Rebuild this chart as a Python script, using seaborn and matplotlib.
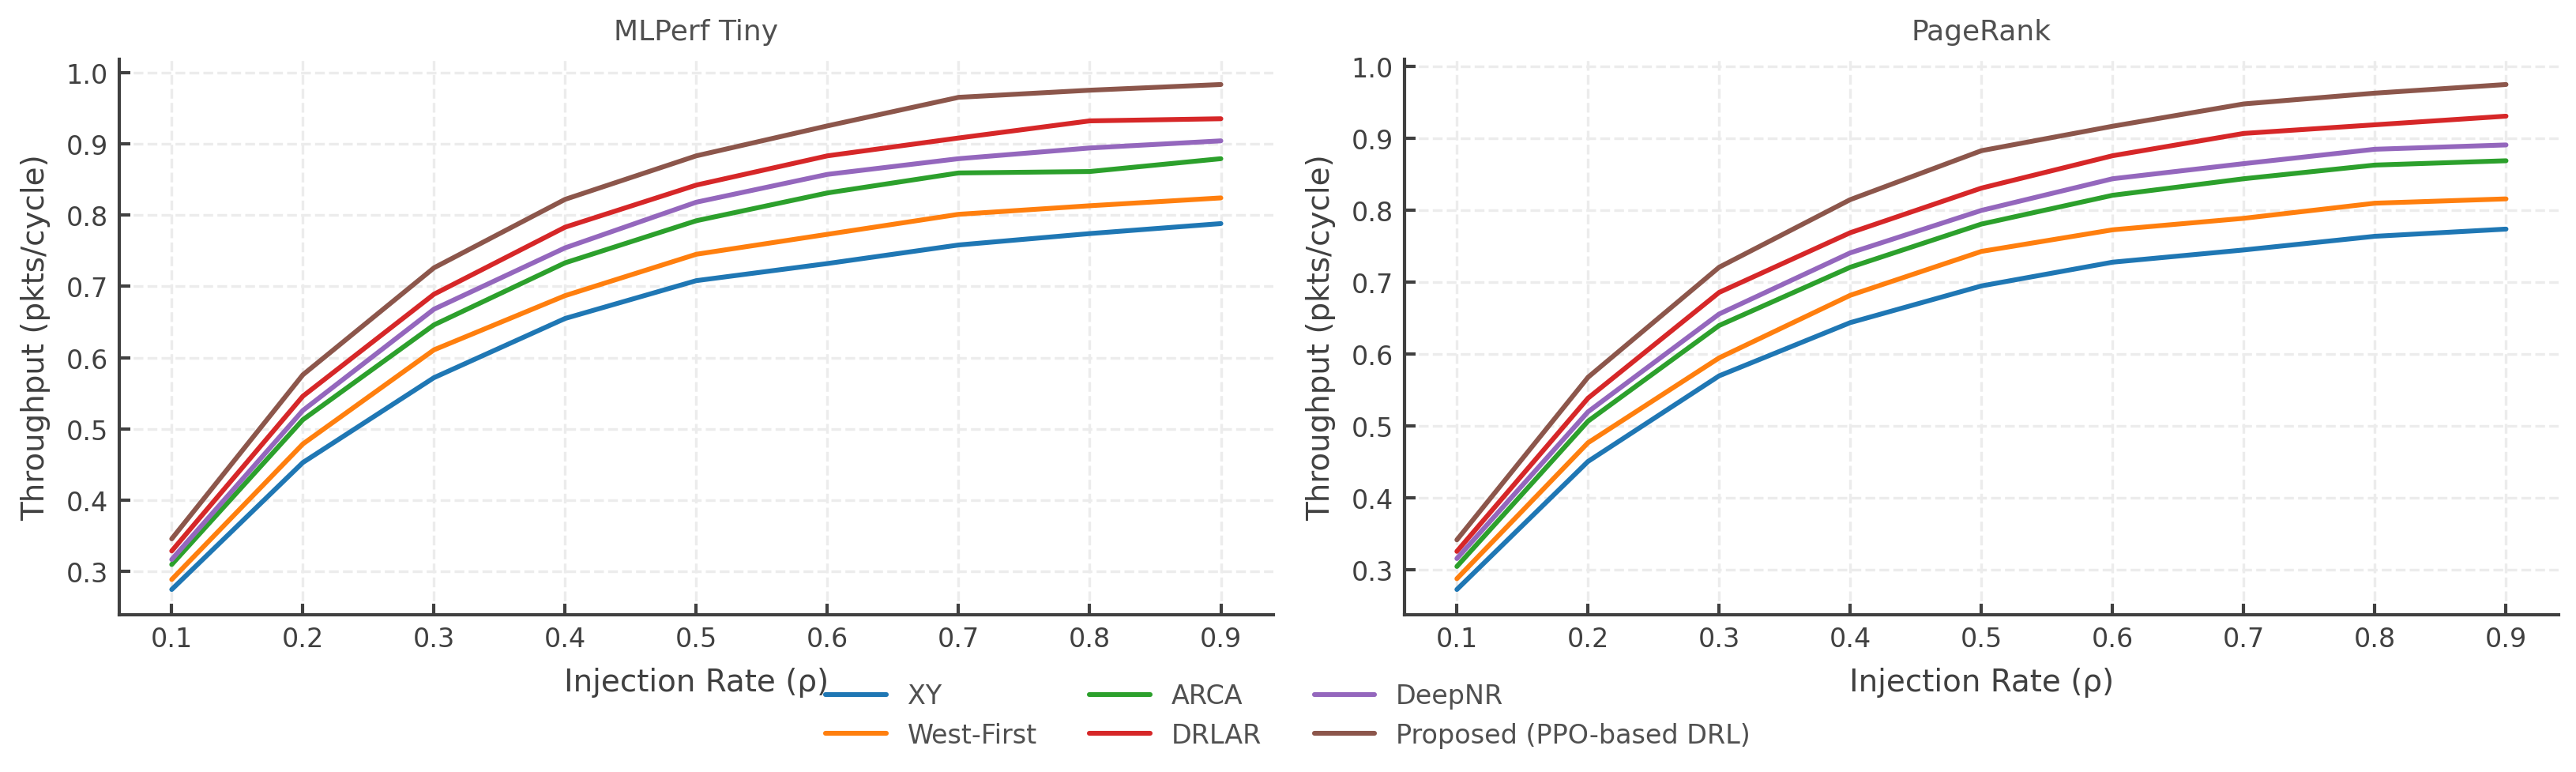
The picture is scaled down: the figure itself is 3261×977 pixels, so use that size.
import matplotlib
matplotlib.use('Agg')

import seaborn as sns
import numpy as np
import pandas as pd
import matplotlib.pyplot as plt

# injection rates on the x axis
rho = [0.1, 0.2, 0.3, 0.4, 0.5, 0.6, 0.7, 0.8, 0.9]

methods = ['XY', 'West-First', 'ARCA', 'DRLAR', 'DeepNR', 'Proposed (PPO-based DRL)']

# MLPerf Tiny throughput (pkts/cycle)
tiny_xy = [0.275, 0.453, 0.572, 0.655, 0.708, 0.732, 0.758, 0.774, 0.788]
tiny_west_first = [0.289, 0.479, 0.611, 0.687, 0.745, 0.773, 0.801, 0.813, 0.824]
tiny_arca = [0.310, 0.513, 0.646, 0.733, 0.792, 0.831, 0.859, 0.861, 0.879]
tiny_drlar = [0.329, 0.546, 0.689, 0.783, 0.842, 0.883, 0.908, 0.932, 0.935]
tiny_deepnr = [0.317, 0.526, 0.668, 0.754, 0.818, 0.857, 0.879, 0.894, 0.904]
tiny_proposed = [0.346, 0.576, 0.726, 0.822, 0.883, 0.925, 0.965, 0.975, 0.983]

# PageRank throughput (pkts/cycle)
pr_xy = [0.273, 0.451, 0.570, 0.644, 0.695, 0.728, 0.745, 0.764, 0.774]
pr_west_first = [0.288, 0.477, 0.595, 0.682, 0.743, 0.773, 0.789, 0.810, 0.816]
pr_arca = [0.305, 0.507, 0.640, 0.721, 0.781, 0.821, 0.844, 0.863, 0.869]
pr_drlar = [0.326, 0.539, 0.686, 0.769, 0.831, 0.876, 0.907, 0.919, 0.931]
pr_deepnr = [0.316, 0.520, 0.656, 0.741, 0.800, 0.844, 0.865, 0.885, 0.891]
pr_proposed = [0.342, 0.568, 0.721, 0.815, 0.883, 0.917, 0.948, 0.963, 0.975]

TEXT = '#404040'


def to_frame(series):
    rows = []
    for name, values in zip(methods, series):
        for r, v in zip(rho, values):
            rows.append({'rho': r, 'throughput': v, 'method': name})
    return pd.DataFrame(rows)


tiny = to_frame([tiny_xy, tiny_west_first, tiny_arca, tiny_drlar, tiny_deepnr, tiny_proposed])
pagerank = to_frame([pr_xy, pr_west_first, pr_arca, pr_drlar, pr_deepnr, pr_proposed])

sns.set_style("ticks")
plt.rcParams['font.family'] = ['DejaVu Sans']
plt.rcParams['axes.edgecolor'] = TEXT
plt.rcParams['axes.linewidth'] = 1.5

palette = sns.color_palette("tab10", n_colors=len(methods))

fig = plt.figure(figsize=(16.305, 4.89), dpi=200)
ax1 = fig.add_axes([0.0463, 0.2035, 0.4480, 0.7188])
ax2 = fig.add_axes([0.5452, 0.2035, 0.4480, 0.7188])

for ax, data, title in [(ax1, tiny, 'MLPerf Tiny'), (ax2, pagerank, 'PageRank')]:
    sns.lineplot(x='rho', y='throughput', hue='method', data=data, palette=palette,
                 linewidth=2.2, ax=ax, legend=True)
    sns.despine(ax=ax)
    ax.set_xticks(rho)
    ax.set_xticklabels(['{:.1f}'.format(r) for r in rho])
    ax.set_yticks([0.3, 0.4, 0.5, 0.6, 0.7, 0.8, 0.9, 1.0])
    ax.tick_params(axis='both', direction='in', length=5, width=1.5, pad=5,
                   labelsize=12, colors=TEXT)
    ax.grid(True, linestyle='--', linewidth=1.2, color='#ececec')
    ax.set_axisbelow(True)
    ax.set_xlabel('Injection Rate (ρ)', fontsize=14, color=TEXT, labelpad=7)
    ax.set_ylabel('Throughput (pkts/cycle)', fontsize=14, color=TEXT, labelpad=7)
    ax.set_title(title, fontsize=13, color='#505050', pad=9)

handles, labels = ax1.get_legend_handles_labels()
ax1.legend_.remove()
ax2.legend_.remove()
leg = fig.legend(handles, labels, loc='lower center', bbox_to_anchor=(0.5, 0.0), ncol=3,
                 frameon=False, fontsize=12, handlelength=2.3)
for t in leg.get_texts():
    t.set_color('#505050')

plt.savefig('out.png', dpi=200)
plt.close('all')
